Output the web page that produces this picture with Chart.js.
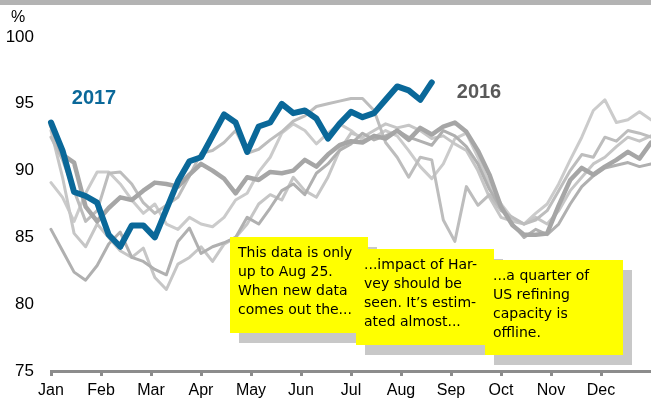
<!DOCTYPE html>
<html>
<head>
<meta charset="utf-8">
<script src="https://cdn.jsdelivr.net/npm/chart.js@4.4.1/dist/chart.umd.min.js"></script>
<style>
  body { margin: 0; background: #fff; }
  #wrap { width: 651px; height: 404px; position: relative; }
</style>
</head>
<body>
<div id="wrap"><canvas id="utilChart" width="651" height="404"></canvas></div>
<script>
// Refinery utilization, weekly, %
const months = ['Jan', 'Feb', 'Mar', 'Apr', 'May', 'Jun', 'Jul', 'Aug', 'Sep', 'Oct', 'Nov', 'Dec'];
const yTicks = [75, 80, 85, 90, 95, 100];

const y2017 = [93.6, 91.5, 88.4, 88.1, 87.6, 85.2, 84.3, 85.9, 85.9, 85.0, 87.1, 89.2, 90.7, 91.0, 92.6, 94.2, 93.6,
    91.4, 93.3, 93.6, 95.0, 94.3, 94.5, 93.9, 92.4, 93.5, 94.4, 94.0, 94.3, 95.3, 96.3, 96.0, 95.3, 96.6];

const y2016 = [93.4, 91.2, 90.6, 87.3, 86.2, 87.2, 88.0, 87.8, 88.5, 89.1, 89.0, 88.8, 89.7, 90.5, 90.0, 89.4, 88.3,
    89.5, 89.3, 89.9, 89.8, 90.0, 90.8, 90.3, 91.2, 91.9, 92.2, 92.1, 92.6, 92.4, 93.0, 92.3, 93.2, 92.7, 93.3, 93.6,
    92.9, 91.5, 89.7, 87.3, 85.9, 85.2, 85.2, 85.3, 87.4, 89.3, 90.2, 89.7, 90.3, 90.8, 91.4, 90.9, 92.1];

const yPastA = [92.5, 90.8, 88.5, 86.2, 87.0, 89.8, 89.9, 89.0, 87.6, 86.8, 87.4, 88.0, 89.6, 91.3, 91.5, 92.1, 93.0,
    91.3, 91.6, 92.3, 92.9, 93.7, 94.1, 94.8, 95.0, 95.2, 95.4, 95.4, 94.5, 92.1, 91.0, 89.5, 91.0, 90.8, 86.3, 84.7,
    88.8, 87.4, 88.2, 87.0, 86.5, 86.0, 86.3, 87.0, 88.5, 90.0, 91.2, 91.0, 92.5, 92.2, 93.0, 92.8, 92.5];

const yPastB = [89.1, 88.0, 86.2, 88.3, 89.9, 89.9, 89.0, 87.8, 86.8, 87.5, 86.0, 85.6, 86.5, 86.0, 85.8, 86.5, 87.8,
    88.3, 89.9, 91.0, 92.8, 93.5, 93.0, 92.0, 92.8, 93.5, 93.0, 92.3, 92.5, 93.0, 92.6, 91.5, 90.3, 89.4, 90.5, 92.4,
    92.8, 91.0, 89.0, 87.5, 86.4, 86.0, 86.8, 87.5, 89.0, 90.8, 92.5, 94.5, 95.3, 93.6, 93.8, 94.4, 93.8];

const yPastC = [93.0, 89.5, 85.3, 84.3, 86.0, 85.0, 84.0, 83.5, 84.2, 82.0, 81.1, 83.0, 83.5, 84.3, 83.2, 84.5, 85.0,
    86.0, 87.5, 88.2, 87.8, 89.5, 88.5, 88.0, 89.5, 91.5, 92.8, 92.5, 93.0, 93.5, 93.2, 93.4, 93.0, 92.4, 92.6, 92.0,
    91.5, 90.0, 88.0, 86.5, 86.2, 86.0, 86.5, 86.0, 87.0, 88.5, 89.5, 90.5, 91.0, 91.8, 92.5, 92.2, 92.6];

const yPastD = [85.6, 84.0, 82.4, 81.8, 82.9, 84.5, 85.4, 83.5, 83.2, 82.6, 82.2, 84.7, 85.7, 83.8, 84.3, 84.6, 85.0,
    86.5, 86.0, 87.2, 88.5, 89.0, 88.2, 89.8, 90.5, 91.5, 92.0, 92.8, 92.3, 92.6, 93.0, 92.5, 92.2, 91.9, 93.0, 92.6,
    91.8, 90.5, 88.6, 87.2, 86.0, 85.0, 85.6, 85.2, 86.0, 87.5, 88.8, 89.6, 90.2, 90.4, 90.6, 90.3, 90.5];

const notes = [
    ['This data is only', 'up to Aug 25.', 'When new data', 'comes out the...'],
    ['...impact of Har-', 'vey should be', 'seen. It\u2019s estim-', 'ated almost...'],
    ['...a quarter of', 'US refining', 'capacity is', 'offline.']
];

// week index -> position on a month axis (Jan = 0 ... Dec = 11)
function toPoints(arr) {
    return arr.map((v, i) => ({ x: i * 12 / 52, y: v }));
}

function line(data, color, width) {
    return {
        data: toPoints(data),
        borderColor: color,
        borderWidth: width,
        pointRadius: 0,
        borderJoinStyle: 'round',
        borderCapStyle: 'round',
        tension: 0,
        clip: false
    };
}

// top bar, labels and sticky notes
const decorations = {
    id: 'decorations',
    afterDatasetsDraw(chart) {
        const ctx = chart.ctx;
        ctx.save();
        ctx.fillStyle = '#b3b3b3';
        ctx.fillRect(0, 0, 651, 5);

        ctx.fillStyle = '#000';
        ctx.font = '16px "Liberation Sans", Arial, sans-serif';
        ctx.textAlign = 'center';
        ctx.textBaseline = 'middle';
        ctx.fillText('%', 18, 18);

        ctx.font = 'bold 20px "Liberation Sans", Arial, sans-serif';
        ctx.fillStyle = '#0a6899';
        ctx.fillText('2017', 94, 98);
        ctx.fillStyle = '#595959';
        ctx.fillText('2016', 479, 92);

        const boxes = [
            { x: 230, y: 237, w: 138, h: 96 },
            { x: 356, y: 249, w: 138, h: 96 },
            { x: 485, y: 260, w: 138, h: 95 }
        ];
        ctx.textAlign = 'left';
        ctx.font = '14px "Comic Sans MS", "DejaVu Sans", sans-serif';
        boxes.forEach((b, i) => {
            ctx.fillStyle = '#c8c8c8';
            ctx.fillRect(b.x + 9, b.y + 10, b.w, b.h);
            ctx.fillStyle = '#ffff00';
            ctx.fillRect(b.x, b.y, b.w, b.h);
            ctx.fillStyle = '#000';
            notes[i].forEach((t, j) => ctx.fillText(t, b.x + 8, b.y + 16 + j * 19));
        });
        ctx.restore();
    }
};

const ctx = document.getElementById('utilChart').getContext('2d');
new Chart(ctx, {
    type: 'line',
    data: {
        datasets: [
            line(y2017, '#0a6899', 6),
            line(y2016, '#a6a6a6', 4.5),
            line(yPastD, '#b0b0b0', 3),
            line(yPastA, '#bdbdbd', 3),
            line(yPastC, '#c6c6c6', 3),
            line(yPastB, '#cbcbcb', 3)
        ]
    },
    options: {
        responsive: false,
        animation: false,
        layout: { padding: { top: 37, right: 0, left: 0, bottom: 0 } },
        plugins: { legend: { display: false }, tooltip: { enabled: false } },
        scales: {
            x: {
                type: 'linear',
                min: 0,
                max: 12,
                afterFit: (s) => { s.height = 33; },
                afterBuildTicks: (s) => {
                    s.ticks = months.map((m, i) => ({ value: i }));
                },
                ticks: {
                    autoSkip: false,
                    maxRotation: 0,
                    padding: 5,
                    color: '#000',
                    font: { family: '"Liberation Sans", Arial, sans-serif', size: 16 },
                    callback: (v) => months[v] || ''
                },
                grid: {
                    drawOnChartArea: false,
                    drawTicks: true,
                    tickLength: 5,
                    tickWidth: 3,
                    tickColor: '#8c8c8c'
                },
                border: { display: true, color: '#8c8c8c', width: 3 }
            },
            y: {
                min: 75,
                max: 100,
                afterFit: (s) => { s.width = 51; },
                afterBuildTicks: (s) => {
                    s.ticks = yTicks.map(v => ({ value: v }));
                },
                ticks: {
                    padding: 17,
                    color: '#000',
                    font: { family: '"Liberation Sans", Arial, sans-serif', size: 17 }
                },
                grid: { display: false, drawTicks: false },
                border: { display: false }
            }
        }
    },
    plugins: [decorations]
});
</script>
</body>
</html>
